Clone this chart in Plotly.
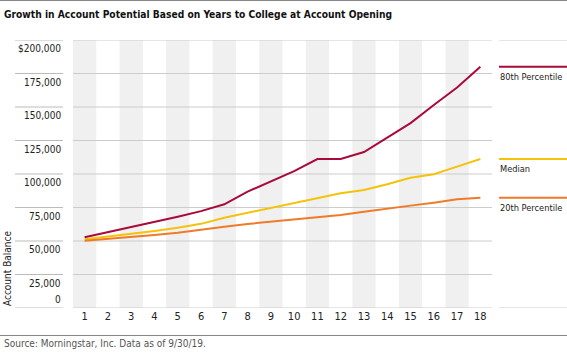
import plotly.graph_objects as go

years = list(range(1, 19))
p80 = [52800, 56500, 60700, 64400, 68100, 72300, 77400, 86800, 94300, 102200,
       111200, 111200, 116400, 126900, 138000, 151500, 164500, 180000]
median = [51300, 53200, 55200, 57500, 59900, 62800, 67400, 71100, 74900, 78100,
          81900, 85600, 88100, 92300, 97200, 99800, 105500, 111200]
p20 = [50200, 51500, 53000, 54500, 56200, 58600, 60700, 62700, 64400, 66200,
       67700, 69400, 71900, 73900, 76400, 78600, 81100, 82300]
series_names = ["80th Percentile", "Median", "20th Percentile"]
series_colors = ["#A80A3A", "#F5C20A", "#F07A28"]
ytick_vals = [0, 25000, 50000, 75000, 100000, 125000, 150000, 175000, 200000]
ytick_text = ["0", "25,000", "50,000", "75,000", "100,000", "125,000", "150,000", "175,000", "$200,000"]

FONT = "DejaVu Sans Condensed, Liberation Sans Narrow, sans-serif"
W, H = 567, 353
L, R, T, B = 73, 75, 40, 45
PW = W - L - R

def px(xpix):
    return (xpix - L) / PW

fig = go.Figure()
for name, vals, col in zip(series_names, [p80, median, p20], series_colors):
    fig.add_trace(go.Scatter(x=years, y=vals, mode="lines", name=name,
                             line=dict(color=col, width=2), showlegend=False))

shapes = []
for yr in years:
    if yr % 2 == 1:
        shapes.append(dict(type="rect", xref="x", yref="paper", x0=yr - 0.5, x1=yr + 0.5,
                           y0=0, y1=1, fillcolor="#F0F0F0", line=dict(width=0), layer="below"))
for v in ytick_vals:
    shapes.append(dict(type="line", xref="paper", yref="y", x0=0, x1=1, y0=v, y1=v,
                       line=dict(color="#CCCCCC", width=1), layer="below"))
    shapes.append(dict(type="line", xref="paper", yref="y", x0=px(15), x1=px(63), y0=v, y1=v,
                       line=dict(color="#BBBBBB", width=1)))
for v in [0, 200000]:
    shapes.append(dict(type="line", xref="paper", yref="y", x0=px(499), x1=px(568), y0=v, y1=v,
                       line=dict(color="#CCCCCC", width=1)))
for vals, col in zip([p80, median, p20], series_colors):
    shapes.append(dict(type="line", xref="paper", yref="y", x0=px(499), x1=px(568),
                       y0=vals[-1], y1=vals[-1], line=dict(color=col, width=2)))
ytop = 1 + (T - 0.5) / (H - T - B)
shapes.append(dict(type="line", xref="paper", yref="paper", x0=px(0), x1=px(567),
                   y0=ytop, y1=ytop, line=dict(color="#888888", width=1)))
yb = -(335.5 - (H - B)) / (H - T - B)
shapes.append(dict(type="line", xref="paper", yref="paper", x0=px(0), x1=px(567),
                   y0=yb, y1=yb, line=dict(color="#888888", width=1)))

annotations = []
for v, t in zip(ytick_vals, ytick_text):
    if v == 0:
        annotations.append(dict(xref="paper", yref="y", x=px(63), y=v, text=t, showarrow=False,
                                xanchor="right", yanchor="bottom", yshift=1,
                                font=dict(family=FONT, size=10, color="#222222")))
    else:
        annotations.append(dict(xref="paper", yref="y", x=px(63), y=v, text=t, showarrow=False,
                                xanchor="right", yanchor="top", yshift=-1,
                                font=dict(family=FONT, size=10, color="#222222")))
for name, vals in zip(series_names, [p80, median, p20]):
    annotations.append(dict(xref="paper", yref="y", x=px(498), y=vals[-1], text=name, showarrow=False,
                            xanchor="left", yanchor="top", yshift=-2,
                            font=dict(family=FONT, size=9.2, color="#222222")))
annotations.append(dict(xref="paper", yref="y", x=px(7), y=0, text="Account Balance", textangle=-90,
                        showarrow=False, xanchor="center", yanchor="bottom",
                        font=dict(family=FONT, size=10, color="#222222")))
annotations.append(dict(xref="paper", yref="paper", x=px(2), y=1 + (T - 15) / (H - T - B),
                        text="<b>Growth in Account Potential Based on Years to College at Account Opening</b>",
                        showarrow=False, xanchor="left", yanchor="middle",
                        font=dict(family=FONT, size=10.2, color="#111111")))
annotations.append(dict(xref="paper", yref="paper", x=px(2), y=-(343.5 - (H - B)) / (H - T - B),
                        text="Source: Morningstar, Inc. Data as of 9/30/19.",
                        showarrow=False, xanchor="left", yanchor="middle",
                        font=dict(family=FONT, size=10, color="#555555")))

fig.update_layout(
    width=W, height=H, margin=dict(l=L, r=R, t=T, b=B),
    plot_bgcolor="white", paper_bgcolor="white",
    shapes=shapes, annotations=annotations,
    xaxis=dict(range=[0.5, 18.5], tickvals=years, ticktext=[str(y) for y in years],
               showgrid=False, zeroline=False, showline=False, ticks="",
               tickfont=dict(family=FONT, size=11, color="#222222"), fixedrange=True),
    yaxis=dict(range=[0, 200000], showgrid=False, zeroline=False, showline=False,
               showticklabels=False, fixedrange=True),
)
fig.write_html("out.html")
